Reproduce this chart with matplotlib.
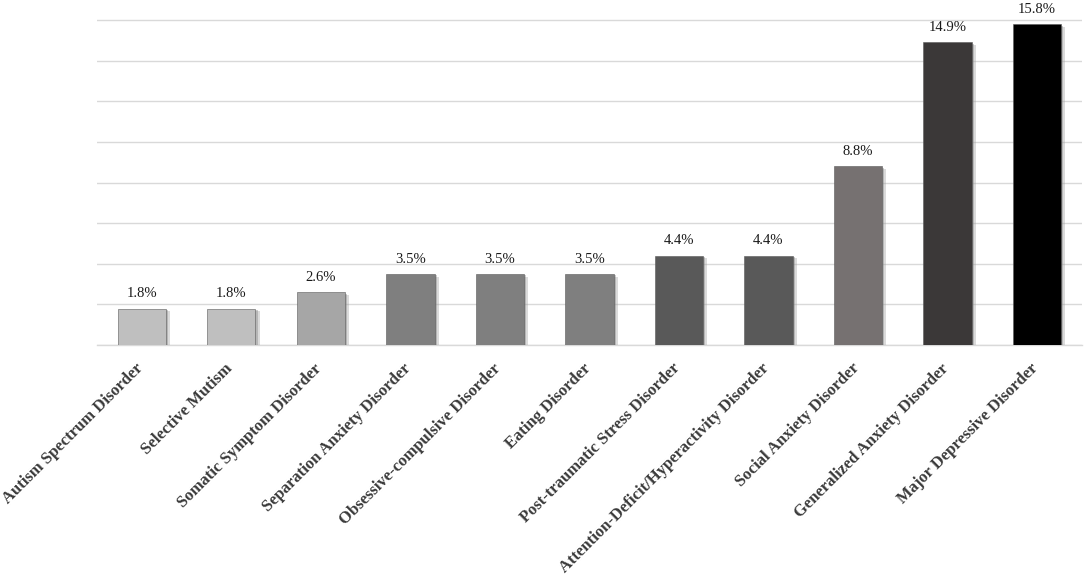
import matplotlib
matplotlib.use('Agg')
import matplotlib.pyplot as plt
import matplotlib.patheffects as pe
import matplotlib.transforms as mtransforms

plt.rcParams['font.family'] = ['Liberation Serif', 'DejaVu Serif']

# 数据
disorders = ['Autism Spectrum Disorder', 'Selective Mutism', 'Somatic Symptom Disorder',
             'Separation Anxiety Disorder', 'Obsessive-compulsive Disorder', 'Eating Disorder',
             'Post-traumatic Stress Disorder', 'Attention-Deficit/Hyperactivity Disorder',
             'Social Anxiety Disorder', 'Generalized Anxiety Disorder', 'Major Depressive Disorder']
percentages = [1.8, 1.8, 2.6, 3.5, 3.5, 3.5, 4.4, 4.4, 8.8, 14.9, 15.8]
bar_colors = ['#bfbfbf', '#bfbfbf', '#a6a6a6', '#7f7f7f', '#7f7f7f', '#7f7f7f',
              '#595959', '#595959', '#767171', '#3b3838', '#000000']

fig = plt.figure(figsize=(10.84, 5.78), dpi=100)
ax = fig.add_axes([0.0895, 0.403, 0.9085, 0.5728])

x = range(len(disorders))
bars = ax.bar(x, percentages, width=0.54, color=bar_colors, edgecolor='#5a5a5a', linewidth=0.4,
              zorder=3)
# 柱子阴影
for b in bars:
    b.set_path_effects([pe.SimplePatchShadow(offset=(3, -2), shadow_rgbFace='#9a9a9a', alpha=0.35),
                        pe.SimplePatchShadow(offset=(1.5, -1), shadow_rgbFace='#808080', alpha=0.4),
                        pe.Normal()])

# 数值标签
for xi, v in zip(x, percentages):
    ax.annotate(f'{v}%', (xi, v), xytext=(0, 6), textcoords='offset points',
                ha='center', va='bottom', fontsize=10.5, color='#1a1a1a')

ax.set_xlim(-0.5, len(disorders) - 0.5)
ax.set_ylim(0, 16.3)
ax.set_yticks(range(0, 17, 2))
ax.yaxis.grid(True, color='#d9d9d9', linewidth=1.0, zorder=0)
ax.set_axisbelow(True)
ax.tick_params(axis='y', left=False, labelleft=False)
ax.tick_params(axis='x', length=0, pad=11)
ax.set_xticks(list(x))
ax.set_xticklabels(disorders, rotation=45, ha='right', rotation_mode='anchor',
                   fontsize=12, fontweight='bold', color='#3a3a3a')
# 标签整体左移一点
shift = mtransforms.ScaledTranslation(-7 / 100, 0, fig.dpi_scale_trans)
for lab in ax.get_xticklabels():
    lab.set_transform(lab.get_transform() + shift)

for s in ['top', 'right', 'left']:
    ax.spines[s].set_visible(False)
ax.spines['bottom'].set_color('#d9d9d9')
ax.spines['bottom'].set_linewidth(1.0)

fig.savefig('out.png', dpi=100)
